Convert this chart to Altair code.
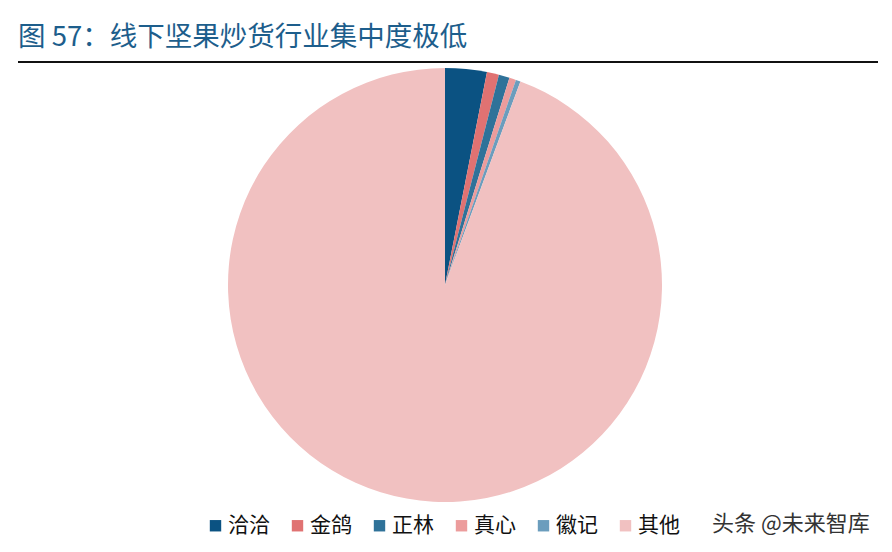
import altair as alt
import pandas as pd

brands = ["洽洽", "金鸽", "正林", "真心", "徽记", "其他"]
shares = [3.1, 0.9, 0.8, 0.5, 0.35, 94.35]
colors = ["#0b5282", "#e07272", "#2f7299", "#ec9c9c", "#6b9dbd", "#f1c1c1"]

title_text = ["图 57：线下坚果炒货行业集中度极低"]
watermark_text = ["头条 @未来智库"]

FONT = "Noto Sans CJK SC"

df = pd.DataFrame({"brand": brands, "share": shares, "order": list(range(len(brands)))})

pie = alt.Chart(df).mark_arc(radius=217).encode(
    theta=alt.Theta("share:Q", stack=True),
    order=alt.Order("order:Q"),
    color=alt.Color(
        "brand:N",
        sort=brands,
        scale=alt.Scale(domain=brands, range=colors),
        legend=alt.Legend(
            title=None,
            orient="none",
            direction="horizontal",
            legendX=197,
            legendY=507,
            symbolType="square",
            symbolSize=130,
            symbolStrokeWidth=0,
            labelFont=FONT,
            labelFontSize=21,
            labelColor="#111111",
            labelOffset=2,
            columnPadding=17,
            labelLimit=200,
        ),
    ),
    x=alt.value(437),
    y=alt.value(277),
)

title = alt.Chart(pd.DataFrame({"t": title_text})).mark_text(
    align="left", baseline="middle", font=FONT, fontSize=27.5, color="#1d5e8c", fontWeight="normal"
).encode(text="t:N", x=alt.value(10), y=alt.value(30))

rule = alt.Chart(pd.DataFrame({"a": [0]})).mark_rule(color="#111111", strokeWidth=2).encode(
    x=alt.value(10), x2=alt.value(870), y=alt.value(54)
)

wm = alt.Chart(pd.DataFrame({"t": watermark_text})).mark_text(
    align="left", baseline="middle", font=FONT, fontSize=22, color="#333333"
).encode(text="t:N", x=alt.value(704), y=alt.value(516))

chart = alt.layer(pie, rule, title, wm).properties(
    width=876, height=536, autosize=alt.AutoSizeParams(type="none"), padding=0
).configure(background="#ffffff", view=alt.ViewConfig(stroke=None))

chart.save("out.html", embed_options={"renderer": "svg", "actions": False})
